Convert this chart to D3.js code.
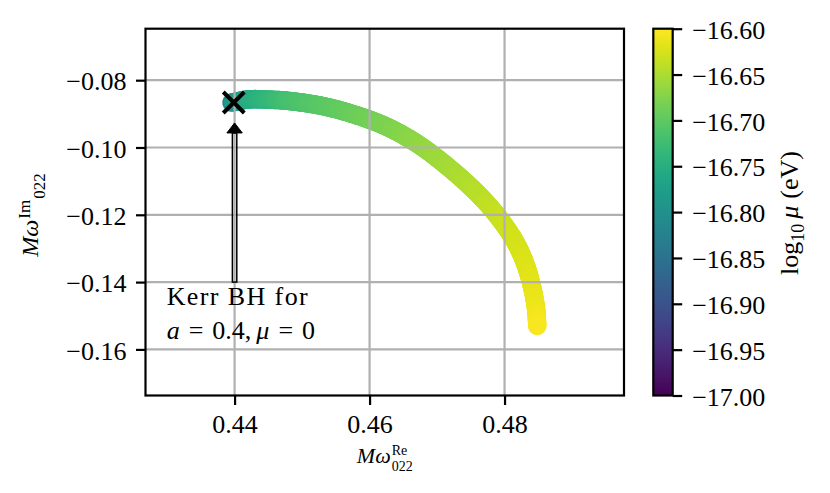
<!DOCTYPE html>
<html>
<head>
<meta charset="utf-8">
<script src="https://cdn.jsdelivr.net/npm/d3@7"></script>
<style>
body { margin: 0; background: #fff; }
svg { font-family: "Liberation Serif", "DejaVu Serif", serif; }
</style>
</head>
<body>
<script>
(function(){

//values
var omegaRe = [0.43954, 0.43972, 0.44228, 0.44525, 0.44772, 0.45266, 0.45759, 0.46254, 0.46698,
               0.47147, 0.47577, 0.47873, 0.48125, 0.48266, 0.48385, 0.48463, 0.48485];
var omegaIm = [-0.08666, -0.08657, -0.08568, -0.08580, -0.08610, -0.08752, -0.09011, -0.09382, -0.09876,
               -0.10550, -0.11323, -0.11977, -0.12690, -0.13246, -0.13959, -0.14732, -0.15305];
var logMu   = [-16.90, -16.79, -16.752, -16.736, -16.72, -16.704, -16.692, -16.68, -16.668,
               -16.656, -16.644, -16.636, -16.628, -16.624, -16.618, -16.612, -16.604];
var kerrRe = [0.43988];
var kerrIm = [-0.08663];
var arrowFrom = [0.44, -0.14];
var arrowTo = [0.44, -0.0927];
var noteLines = ["Kerr BH for", "a = 0.4, μ = 0"];
var xTicks = [0.44, 0.46, 0.48];
var yTicks = [-0.16, -0.14, -0.12, -0.10, -0.08];
var cbTicks = [-17.00, -16.95, -16.90, -16.85, -16.80, -16.75, -16.70, -16.65, -16.60];

var width = 830,
    height = 493;

var plot = {left: 145.5, right: 624, top: 28.7, bottom: 395.5};
var bar = {left: 653.3, right: 672.7};

var svg = d3.select("body")
    .append("svg")
    .attr("width", width)
    .attr("height", height);

var defs = svg.append("defs");

var x = d3.scaleLinear()
    .domain([0.4268, 0.4977])
    .range([plot.left, plot.right]);

var y = d3.scaleLinear()
    .domain([-0.1737, -0.0647])
    .range([plot.bottom, plot.top]);

var color = d3.scaleSequential(d3.interpolateViridis)
    .domain([-17, -16.6]);

var fmt = d3.format(".2f");

//thick coloured track: smooth path through the points, painted in short pieces
var pts = omegaRe.map(function(d, i){ return [x(d), y(omegaIm[i])]; });

var guide = svg.append("path")
    .attr("d", d3.line().curve(d3.curveCatmullRom.alpha(0.5))(pts))
    .attr("fill", "none")
    .attr("stroke", "none");

var total = guide.node().getTotalLength();

//chord length at each point, used to spread the colour along the path
var cum = [0];
for (var i=1; i<pts.length; i++){
    cum.push(cum[i - 1] + Math.hypot(pts[i][0] - pts[i - 1][0], pts[i][1] - pts[i - 1][1]));
};
var muAt = d3.scaleLinear()
    .domain(cum.map(function(c){ return c / cum[cum.length - 1] * total; }))
    .range(logMu);

var steps = d3.range(0, total, 1.5).concat([total]);
var pieces = [];
for (var k=1; k<steps.length; k++){
    var a = guide.node().getPointAtLength(steps[k - 1]),
        b = guide.node().getPointAtLength(steps[k]);
    pieces.push({x1: a.x, y1: a.y, x2: b.x, y2: b.y, mu: muAt((steps[k - 1] + steps[k]) / 2)});
};

svg.append("g")
    .selectAll("line")
    .data(pieces)
    .enter()
    .append("line")
    .attr("x1", function(d){ return d.x1; })
    .attr("y1", function(d){ return d.y1; })
    .attr("x2", function(d){ return d.x2; })
    .attr("y2", function(d){ return d.y2; })
    .attr("stroke", function(d){ return color(d.mu); })
    .attr("stroke-width", 18.5)
    .attr("stroke-linecap", "round");

//grid on top of the track, like matplotlib does
var grid = svg.append("g")
    .attr("stroke", "#b0b0b0")
    .attr("stroke-width", 2.2);

grid.selectAll(".gx")
    .data(xTicks)
    .enter()
    .append("line")
    .attr("x1", function(d){ return x(d); })
    .attr("x2", function(d){ return x(d); })
    .attr("y1", plot.top)
    .attr("y2", plot.bottom);

grid.selectAll(".gy")
    .data(yTicks)
    .enter()
    .append("line")
    .attr("y1", function(d){ return y(d); })
    .attr("y2", function(d){ return y(d); })
    .attr("x1", plot.left)
    .attr("x2", plot.right);

//axes
var xAxis = svg.append("g")
    .attr("transform", "translate(0," + plot.bottom + ")")
    .call(d3.axisBottom(x).tickValues(xTicks).tickFormat(fmt).tickSize(9.5).tickPadding(9.5));

var yAxis = svg.append("g")
    .attr("transform", "translate(" + plot.left + ",0)")
    .call(d3.axisLeft(y).tickValues(yTicks).tickFormat(fmt).tickSize(9.5).tickPadding(9.5));

yAxis.selectAll("text").attr("dy", "0.37em");

[xAxis, yAxis].forEach(function(a){
    a.select(".domain").remove();
    a.selectAll("line").attr("stroke", "#000").attr("stroke-width", 2.2);
    a.selectAll("text").attr("font-size", 26).attr("fill", "#000")
        .attr("font-family", "Liberation Serif, DejaVu Serif, serif");
});

svg.append("rect")
    .attr("x", plot.left)
    .attr("y", plot.top)
    .attr("width", plot.right - plot.left)
    .attr("height", plot.bottom - plot.top)
    .attr("fill", "none")
    .attr("stroke", "#000")
    .attr("stroke-width", 2.2);

//kerr marker
svg.selectAll(".kerr")
    .data(kerrRe)
    .enter()
    .append("path")
    .attr("transform", function(d, i){ return "translate(" + x(d) + "," + y(kerrIm[i]) + ")"; })
    .attr("d", "M-10.5,-10.5L10.5,10.5M-10.5,10.5L10.5,-10.5")
    .attr("stroke", "#000")
    .attr("stroke-width", 4)
    .attr("fill", "none");

//arrow pointing at the marker
var ax = x(arrowFrom[0]),
    tailY = y(arrowFrom[1]),
    tipY = y(arrowTo[1]),
    headLen = 10,
    headHalf = 7.7,
    shaftHalf = 2.2;

svg.append("rect")
    .attr("x", ax - shaftHalf)
    .attr("y", tipY + headLen)
    .attr("width", shaftHalf * 2)
    .attr("height", tailY - tipY - headLen)
    .attr("fill", "none")
    .attr("stroke", "#000")
    .attr("stroke-width", 1.5);

svg.append("path")
    .attr("d", "M" + ax + "," + tipY + "L" + (ax + headHalf) + "," + (tipY + headLen) +
               "L" + (ax - headHalf) + "," + (tipY + headLen) + "Z")
    .attr("fill", "#000")
    .attr("stroke", "#000")
    .attr("stroke-width", 1);

//annotation text
var noteX = x(0.42994),
    noteY = y(-0.1468);

svg.append("text")
    .attr("x", noteX)
    .attr("y", noteY)
    .attr("font-size", 26)
    .attr("textLength", 141)
    .attr("lengthAdjust", "spacing")
    .text(noteLines[0]);

var line2 = svg.append("text")
    .attr("x", noteX)
    .attr("y", noteY + 34)
    .attr("font-size", 26);
line2.append("tspan").attr("font-style", "italic").text("a");
line2.append("tspan").attr("dx", 9).text("=");
line2.append("tspan").attr("dx", 9).text("0.4,");
line2.append("tspan").attr("dx", 5).attr("font-style", "italic").text("μ");
line2.append("tspan").attr("dx", 9).text("=");
line2.append("tspan").attr("dx", 9).text("0");

//axis labels with stacked or sequential scripts
function mathLabel(cx, cy, rot, sup, sub, stacked, size, small, supY, subY){
    var g = svg.append("g")
        .attr("transform", "translate(" + cx + "," + cy + ") rotate(" + rot + ")");
    var t = g.append("text").attr("font-size", size).attr("font-style", "italic").text("Mω");
    var w = t.node().getComputedTextLength();
    var s1 = g.append("text").attr("x", w + 1).attr("y", supY)
        .attr("font-size", small).text(sup);
    var w1 = s1.node().getComputedTextLength();
    var s2 = g.append("text").attr("x", stacked ? w + 1 : w + w1 + 2).attr("y", subY)
        .attr("font-size", small).text(sub);
    var w2 = s2.node().getComputedTextLength();
    var full = stacked ? w + 1 + Math.max(w1, w2) : w + w1 + w2 + 2;
    g.selectAll("text").attr("transform", "translate(" + (-full / 2) + ",0)");
}

mathLabel((plot.left + plot.right) / 2, 463, 0, "Re", "022", true, 22, 14, -8, 8);
mathLabel(37.7, 215, -90, "Im", "022", false, 24, 17, -8, 7);

//colorbar
var cbY = d3.scaleLinear()
    .domain([-17, -16.6])
    .range([plot.bottom, plot.top]);

var cbGrad = defs.append("linearGradient")
    .attr("id", "cbGrad")
    .attr("x1", 0).attr("y1", 1)
    .attr("x2", 0).attr("y2", 0);

d3.range(0, 1.0001, 0.05).forEach(function(t){
    cbGrad.append("stop")
        .attr("offset", t)
        .attr("stop-color", d3.interpolateViridis(t));
});

svg.append("rect")
    .attr("x", bar.left)
    .attr("y", plot.top)
    .attr("width", bar.right - bar.left)
    .attr("height", plot.bottom - plot.top)
    .attr("fill", "url(#cbGrad)")
    .attr("stroke", "#000")
    .attr("stroke-width", 2.2);

var cbAxis = svg.append("g")
    .attr("transform", "translate(" + bar.right + ",0)")
    .call(d3.axisRight(cbY).tickValues(cbTicks).tickFormat(fmt).tickSize(9.5).tickPadding(10));

cbAxis.select(".domain").remove();
cbAxis.selectAll("line").attr("stroke", "#000").attr("stroke-width", 2.2);
cbAxis.selectAll("text").attr("font-size", 26).attr("fill", "#000").attr("dy", "0.37em")
    .attr("font-family", "Liberation Serif, DejaVu Serif, serif");

var cbLabel = svg.append("text")
    .attr("transform", "translate(798,213) rotate(-90)")
    .attr("text-anchor", "middle")
    .attr("font-size", 26);
cbLabel.append("tspan").text("log");
cbLabel.append("tspan").attr("font-size", 18).attr("dy", 6).text("10");
cbLabel.append("tspan").attr("dy", -6).attr("dx", 5).attr("font-style", "italic").text("μ");
cbLabel.append("tspan").attr("dx", 7).text("(eV)");

})();
</script>
</body>
</html>
